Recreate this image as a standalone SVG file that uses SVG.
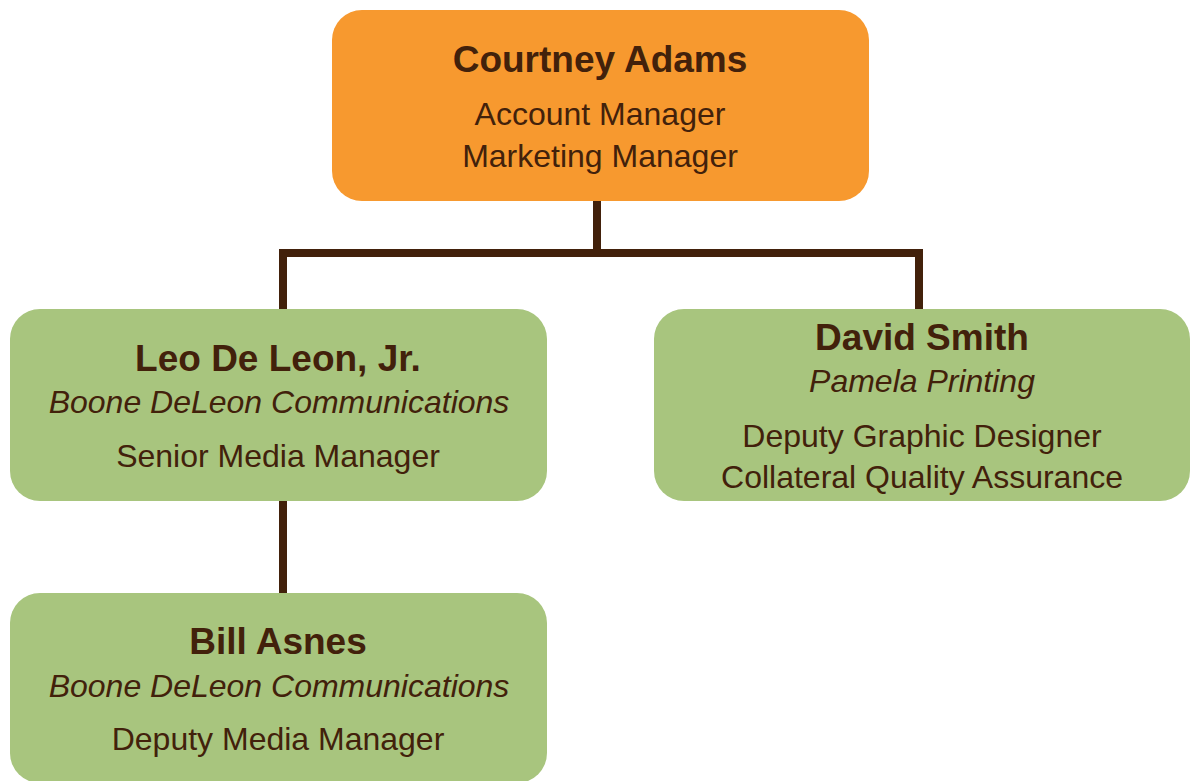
<svg xmlns="http://www.w3.org/2000/svg" width="1190" height="781" viewBox="0 0 1190 781">
<style>
.box{stroke:none}
.top{fill:#F7992F}
.green{fill:#A8C57E}
text{font-family:"Liberation Sans",Arial,sans-serif;fill:#42210B;text-anchor:middle}
.name{font-size:37px;font-weight:bold}
.org{font-size:32px;font-style:italic}
.role{font-size:32px}
.conn{stroke:#42210B;stroke-width:8;fill:none;stroke-linejoin:miter}
</style>
<rect width="1190" height="781" fill="#FFFFFF"/>
<g id="connectors">
<path class="conn" d="M597 201 V253 M283 314 V253 H919 V314"/>
<path class="conn" d="M283 500 V595"/>
</g>
<g id="node-courtney">
<rect class="box top" x="332" y="10" width="537" height="191" rx="30" ry="30"/>
<text class="name" x="600" y="72">Courtney Adams</text>
<text class="role" x="600" y="125">Account Manager</text>
<text class="role" x="600" y="167">Marketing Manager</text>
</g>
<g id="node-leo">
<rect class="box green" x="10" y="309" width="537" height="192" rx="30" ry="30"/>
<text class="name" x="278" y="371">Leo De Leon, Jr.</text>
<text class="org" x="279" y="413">Boone DeLeon Communications</text>
<text class="role" x="278" y="467">Senior Media Manager</text>
</g>
<g id="node-david">
<rect class="box green" x="654" y="309" width="536" height="192" rx="30" ry="30"/>
<text class="name" x="922" y="350">David Smith</text>
<text class="org" x="922" y="392">Pamela Printing</text>
<text class="role" x="922" y="447">Deputy Graphic Designer</text>
<text class="role" x="922" y="488">Collateral Quality Assurance</text>
</g>
<g id="node-bill">
<rect class="box green" x="10" y="593" width="537" height="190" rx="30" ry="30"/>
<text class="name" x="278" y="654">Bill Asnes</text>
<text class="org" x="279" y="697">Boone DeLeon Communications</text>
<text class="role" x="278" y="750">Deputy Media Manager</text>
</g>
</svg>
